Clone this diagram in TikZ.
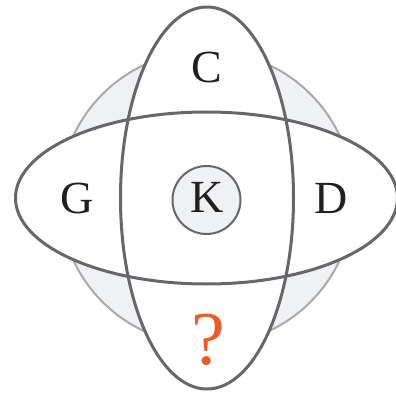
\documentclass[tikz,border=0pt]{standalone}
\usepackage{fontspec}
\setmainfont{Liberation Serif}
\definecolor{ringfill}{HTML}{F0F1F3}
\definecolor{ringline}{HTML}{A9A9AC}
\definecolor{ellline}{HTML}{67676B}
\definecolor{ink}{HTML}{231F20}
\definecolor{qorange}{HTML}{F15A24}
\tikzset{
  lbl/.style={inner sep=0pt, anchor=base, text=ink, font=\fontsize{46}{46}\selectfont},
  qlbl/.style={inner sep=0pt, anchor=base, text=qorange, font=\fontsize{76}{76}\selectfont},
}
\begin{document}
\begin{tikzpicture}[x=1pt,y=-1pt]
\useasboundingbox (0,0) rectangle (396,393);
% big light circle
\draw[fill=ringfill, draw=ringline, line width=2pt] (206.5,198) circle[radius=147];
% ellipse fills
\fill[white] (206.5,198) ellipse[x radius=191, y radius=86];
\fill[white] (207,198) ellipse[x radius=86.5, y radius=191];
% ellipse outlines
\draw[ellline, line width=3pt] (206.5,198) ellipse[x radius=191, y radius=86];
\draw[ellline, line width=3pt] (207,198) ellipse[x radius=86.5, y radius=191];
% K circle
\draw[fill=ringfill, draw=ellline, line width=2pt] (206.5,200) circle[radius=34];
% labels
\node[lbl] (c) at (207,83) {C};
\node[lbl] (g) at (77.5,213) {G};
\node[lbl] (k) at (207.5,212.5) {K};
\node[lbl] (d) at (331.5,213) {D};
\node[qlbl] (q) at (208,364) {?};
\end{tikzpicture}
\end{document}
